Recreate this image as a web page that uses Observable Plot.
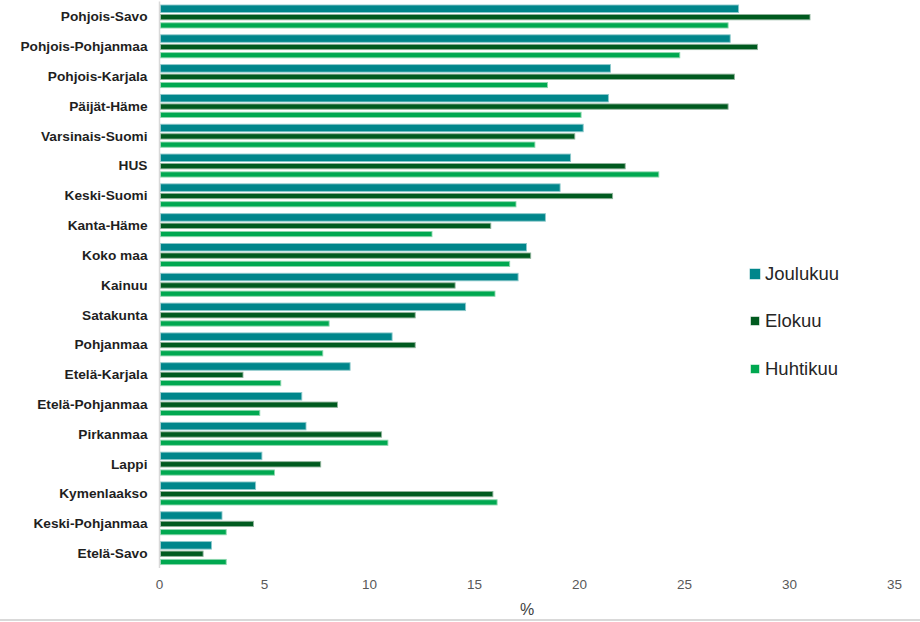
<!DOCTYPE html>
<html><head><meta charset="utf-8">
<script src="https://cdn.jsdelivr.net/npm/d3@7"></script>
<script src="https://cdn.jsdelivr.net/npm/@observablehq/plot@0.6"></script>
<style>
body{margin:0;background:#fff;font-family:"Liberation Sans",Arial,sans-serif}
#wrap{position:relative;width:920px;height:622px;overflow:hidden;background:#fff}
#chart svg{display:block}
#chart [aria-label="y-axis tick label"] text{font-weight:bold;fill:#1f1f1f;font-size:13.7px}
#chart [aria-label="x-axis tick label"] text{fill:#595959;font-size:13.5px}
#chart [aria-label="x-axis label"] text{fill:#404040;font-size:16px}
#bottomline{position:absolute;left:0;top:619px;width:920px;height:2px;background:#d9d9d9}
#legend{position:absolute;left:749px;top:262px;font-size:18.5px;color:#262626}
#legend .it{position:absolute;left:0;height:24px;line-height:24px;white-space:nowrap}
#legend .sw{position:absolute;top:50%;transform:translateY(-50%)}
#legend .tx{position:absolute;left:16px;top:0}
</style></head>
<body><div id="wrap"><div id="chart"></div><div id="bottomline"></div><div id="legend"></div></div>
<script>
const regions = ["Pohjois-Savo","Pohjois-Pohjanmaa","Pohjois-Karjala","Päijät-Häme","Varsinais-Suomi","HUS","Keski-Suomi","Kanta-Häme","Koko maa","Kainuu","Satakunta","Pohjanmaa","Etelä-Karjala","Etelä-Pohjanmaa","Pirkanmaa","Lappi","Kymenlaakso","Keski-Pohjanmaa","Etelä-Savo"];
const joulukuu = [27.6,27.2,21.5,21.4,20.2,19.6,19.1,18.4,17.5,17.1,14.6,11.1,9.1,6.8,7.0,4.9,4.6,3.0,2.5];
const elokuu   = [31.0,28.5,27.4,27.1,19.8,22.2,21.6,15.8,17.7,14.1,12.2,12.2,4.0,8.5,10.6,7.7,15.9,4.5,2.1];
const huhtikuu = [27.1,24.8,18.5,20.1,17.9,23.8,17.0,13.0,16.7,16.0,8.1,7.8,5.8,4.8,10.9,5.5,16.1,3.2,3.2];
const series = ["Joulukuu","Elokuu","Huhtikuu"];
const colors = ["#00868b","#005a1f","#00a850"];
const outlines = ["#8cc8ca","#8fb39b","#8dd7ae"];
const xTicks = [0,5,10,15,20,25,30,35];

const rows = regions.map((r,i)=>({region:r, joulukuu:joulukuu[i], elokuu:elokuu[i], huhtikuu:huhtikuu[i]}));

// position of each series' bar inside a region's band (px from band top / bottom)
const slot = {
  Joulukuu: {insetTop:0,    insetBottom:15.5},
  Elokuu:   {insetTop:9.5,  insetBottom:8.2},
  Huhtikuu: {insetTop:17.8, insetBottom:0}
};

const chart = Plot.plot({
  width:920, height:619,
  marginLeft:159, marginRight:26, marginTop:1.6, marginBottom:51,
  style:{fontFamily:'"Liberation Sans",Arial,sans-serif', fontSize:"13px", background:"#fff", color:"#1a1a1a"},
  x:{domain:[0,35], ticks:xTicks, tickSize:0, tickPadding:11, label:"%", labelAnchor:"center", labelOffset:46, labelArrow:"none"},
  y:{domain:regions, round:false, paddingInner:0.228, paddingOuter:0.114, label:null, tickSize:0, tickPadding:12},
  marks:[
    Plot.barX(rows, {x:"joulukuu", y:"region", fill:colors[0], stroke:outlines[0], strokeWidth:0.9, insetLeft:1.5, ...slot.Joulukuu}),
    Plot.barX(rows, {x:"elokuu",   y:"region", fill:colors[1], stroke:outlines[1], strokeWidth:0.9, insetLeft:1.5, ...slot.Elokuu}),
    Plot.barX(rows, {x:"huhtikuu", y:"region", fill:colors[2], stroke:outlines[2], strokeWidth:0.9, insetLeft:1.5, ...slot.Huhtikuu}),
    Plot.ruleX([0], {stroke:"#d9d9d9", strokeWidth:1.5})
  ]
});
document.getElementById("chart").appendChild(chart);

const legend = document.getElementById("legend");
const legTop = [0, 47, 95];
const swSize = [10, 8, 8];
series.forEach((s,i)=>{
  const it = document.createElement("div");
  it.className="it"; it.style.top = legTop[i]+"px";
  const sw = document.createElement("span");
  sw.className="sw"; sw.style.width=swSize[i]+"px"; sw.style.height=swSize[i]+"px";
  sw.style.background=colors[i]; sw.style.left=(12-swSize[i])/2+"px";
  sw.style.boxShadow="0 0 0 0.5px "+outlines[i];
  const tx = document.createElement("span");
  tx.className="tx"; tx.textContent=s;
  it.appendChild(sw); it.appendChild(tx); legend.appendChild(it);
});
</script>
</body></html>
